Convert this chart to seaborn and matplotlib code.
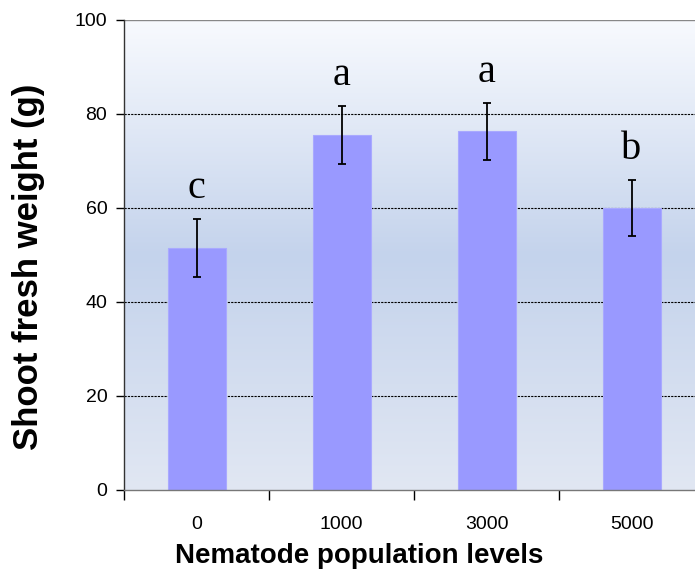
import numpy as np
import matplotlib.pyplot as plt
import matplotlib.colors as mcolors
import seaborn as sns

# data
levels = ['0', '1000', '3000', '5000']
weight = [51.5, 75.5, 76.3, 60.0]
se = [6.2, 6.2, 6.1, 6.0]
letters = ['c', 'a', 'a', 'b']

sns.set_style('white')
plt.rcParams['font.family'] = ['Liberation Sans', 'DejaVu Sans']
plt.rcParams['text.color'] = 'black'
plt.rcParams['xtick.color'] = 'black'
plt.rcParams['ytick.color'] = 'black'

fig = plt.figure(figsize=(6.95, 5.84), dpi=100)
ax = fig.add_axes([124 / 695, 94 / 584, 580 / 695, 470 / 584])

# gradient background of the plot area
grad = mcolors.LinearSegmentedColormap.from_list(
    'bg', ['#E1E7F3', '#C4D3EC', '#F8FAFE'])
ax.imshow(np.linspace(0, 1, 256).reshape(-1, 1), cmap=grad, aspect='auto',
          extent=(-0.5, 3.5, 0, 100), origin='lower', zorder=0)

for yv in [20, 40, 60, 80]:
    ax.axhline(yv, color='black', lw=0.8, ls=(0, (2, 1)), zorder=1)
ax.axhline(100, color='#888888', lw=1.0, zorder=1)

sns.barplot(x=levels, y=weight, color='#9999FF', width=0.4, saturation=1,
            edgecolor='#A9A9FF', linewidth=0.8, ax=ax, zorder=2)
ax.errorbar(range(len(levels)), weight, yerr=se, fmt='none', ecolor='black',
            elinewidth=1.3, capsize=3, capthick=1.3, zorder=3)

for i, (w, s, l) in enumerate(zip(weight, se, letters)):
    ax.text(i, w + s + 6.5, l, ha='center', va='center', fontsize=29,
            family='Liberation Serif', zorder=4)

ax.set_xlim(-0.5, 3.5)
ax.set_ylim(0, 100)
ax.set_yticks([0, 20, 40, 60, 80, 100])
ax.tick_params(axis='y', labelsize=14, length=6, width=1, direction='out',
               pad=6, left=True)
ax.set_xticks(range(len(levels)))
ax.set_xticklabels(levels)
ax.set_xticks([-0.5, 0.5, 1.5, 2.5, 3.5], minor=True)
ax.tick_params(axis='x', which='major', length=0, labelsize=14, pad=19)
ax.tick_params(axis='x', which='minor', length=7, width=1, direction='out',
               bottom=True)

for side in ['top', 'right']:
    ax.spines[side].set_visible(False)
ax.spines['left'].set_color('#333333')
ax.spines['bottom'].set_color('#777777')
ax.spines['left'].set_linewidth(1.0)
ax.spines['bottom'].set_linewidth(1.0)
ax.set_xlabel('')
ax.set_ylabel('')

fig.text(29 / 695, 1 - 267 / 584, 'Shoot fresh weight (g)', rotation=90,
         ha='center', va='center', fontsize=25, fontweight='bold')
fig.text(359 / 695, 1 - 556 / 584, 'Nematode population levels',
         ha='center', va='center', fontsize=20, fontweight='bold')

fig.savefig('out.png', dpi=100)
